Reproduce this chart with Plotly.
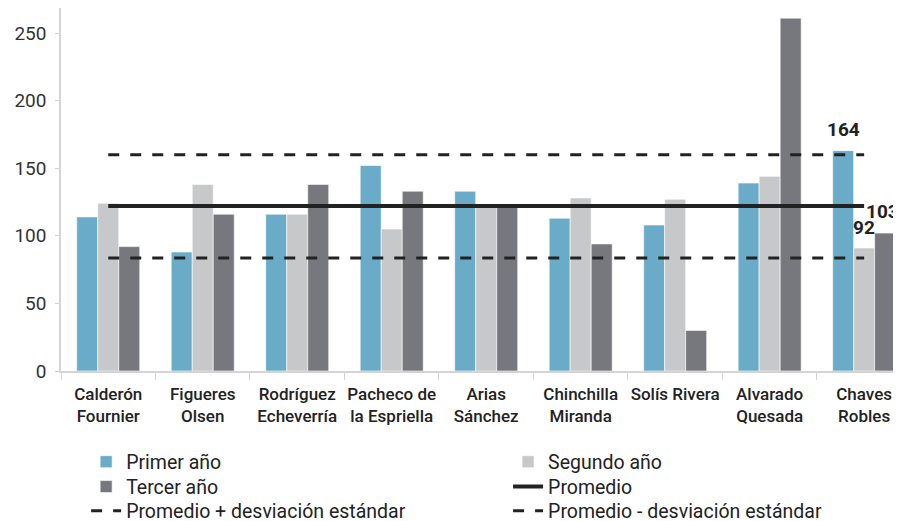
import plotly.graph_objects as go

presidentes = ["Calderón<br>Fournier", "Figueres<br>Olsen", "Rodríguez<br>Echeverría",
               "Pacheco de<br>la Espriella", "Arias<br>Sánchez", "Chinchilla<br>Miranda",
               "Solís Rivera", "Alvarado<br>Quesada", "Chaves<br>Robles"]
primer_anio = [114, 88, 116, 152, 133, 113, 108, 139, 163]
segundo_anio = [124, 138, 116, 105, 122, 128, 127, 144, 91]
tercer_anio = [92, 116, 138, 133, 122, 94, 30, 261, 102]
promedio = 122
prom_mas_de = 160
prom_menos_de = 83.5

FONT = "Roboto, 'Noto Sans', sans-serif"
INK = "#222222"

fig = go.Figure()

fig.add_trace(go.Bar(x=presidentes, y=primer_anio, name="Primer año",
                     marker=dict(color="#6aabc8", line=dict(color="white", width=0.6)),
                     legend="legend"))
fig.add_trace(go.Bar(x=presidentes, y=segundo_anio, name="Segundo año",
                     marker=dict(color="#c7c8ca", line=dict(color="white", width=0.6)),
                     legend="legend2"))
fig.add_trace(go.Bar(x=presidentes, y=tercer_anio, name="Tercer año",
                     marker=dict(color="#77787d", line=dict(color="white", width=0.6)),
                     legend="legend3"))

# reference lines
fig.add_trace(go.Scatter(x=presidentes, y=[promedio] * len(presidentes), mode="lines",
                         name="Promedio", line=dict(color=INK, width=4),
                         legend="legend4"))
fig.add_trace(go.Scatter(x=presidentes, y=[prom_mas_de] * len(presidentes), mode="lines",
                         name="Promedio + desviación estándar",
                         line=dict(color=INK, width=3, dash="11px,11px"),
                         legend="legend5"))
fig.add_trace(go.Scatter(x=presidentes, y=[prom_menos_de] * len(presidentes), mode="lines",
                         name="Promedio - desviación estándar",
                         line=dict(color=INK, width=3, dash="11px,11px"),
                         legend="legend6"))

# value labels on the last group
label_font = dict(family=FONT, size=19, color=INK, weight="bold")
fig.add_annotation(x=presidentes[-1], y=179, text="164", showarrow=False,
                   xshift=-21, font=label_font)
fig.add_annotation(x=presidentes[-1], y=106.5, text="92", showarrow=False,
                   xshift=0, font=label_font)
fig.add_annotation(x=presidentes[-1], y=118, text="103", showarrow=False,
                   xanchor="left", xshift=0, font=label_font)


def legend_box(x, y):
    return dict(x=x, y=y, xref="container", yref="container", xanchor="left",
                yanchor="middle", orientation="h", bgcolor="rgba(0,0,0,0)",
                font=dict(family=FONT, size=19.5, color=INK))


col1, col2 = 0.0875, 0.56
row1, row2, row3 = 0.115, 0.0665, 0.0195

fig.update_layout(
    width=893, height=513,
    margin=dict(l=53, r=0, t=0, b=150),
    plot_bgcolor="white", paper_bgcolor="white",
    font=dict(family=FONT, color=INK),
    barmode="group", bargap=0.333, bargroupgap=0,
    showlegend=True,
    legend=legend_box(col1, row1),
    legend2=legend_box(col2, row1),
    legend3=legend_box(col1, row2),
    legend4=legend_box(col2, row2),
    legend5=legend_box(col1, row3),
    legend6=legend_box(col2, row3),
    xaxis=dict(
        range=[-0.5, 8.39], showline=True, linecolor="#d4d4d4", linewidth=1.5,
        ticks="outside", tickson="boundaries", ticklen=7, tickcolor="#d4d4d4",
        ticklabelstandoff=7,
        tickangle=0, tickfont=dict(family=FONT, size=17, color=INK, weight=500),
        showgrid=False, zeroline=False, automargin=False,
    ),
    yaxis=dict(
        range=[0, 268.5], tickvals=[0, 50, 100, 150, 200, 250],
        showline=True, linecolor="#d4d4d4", linewidth=1.5,
        ticks="outside", ticklen=4, tickcolor="#d4d4d4", ticklabelstandoff=5,
        tickfont=dict(family=FONT, size=19, color="#333333"),
        showgrid=False, zeroline=False, automargin=False,
    ),
)

fig.write_html("out.html")
